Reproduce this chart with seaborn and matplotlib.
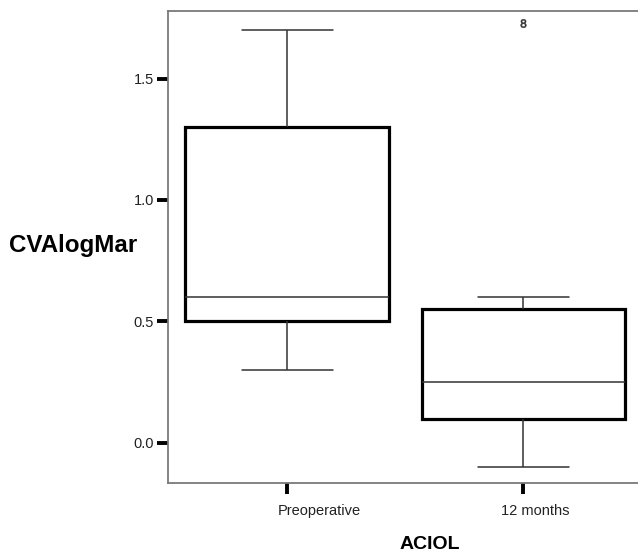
import pandas as pd
import numpy as np
import seaborn as sns
import matplotlib.pyplot as plt
import matplotlib.transforms as mtransforms

# Visual acuity values (logMAR) per time point
groups = ["Preoperative", "12 months"]
preop_vals = [0.3, 0.5, 0.5, 0.5, 0.6, 1.0, 1.3, 1.5, 1.7]
month12_vals = [-0.1, 0.1, 0.1, 0.2, 0.25, 0.5, 0.55, 0.6, 1.73]
y_ticks = [0.0, 0.5, 1.0, 1.5]

df = pd.DataFrame({
    "ACIOL": [groups[0]] * len(preop_vals) + [groups[1]] * len(month12_vals),
    "CVAlogMar": preop_vals + month12_vals,
})

sns.set_style("white")
plt.rcParams['font.family'] = ['Liberation Sans', 'DejaVu Sans']

fig = plt.figure(figsize=(6.38, 5.55), dpi=100)
# axes runs past the right edge, like the cropped original
ax = fig.add_axes([168/638, 72/555, 502/638, 472/555])

sns.boxplot(data=df, x="ACIOL", y="CVAlogMar", order=groups, ax=ax,
            width=0.86, color="white", linecolor="black", whis=1.5,
            capwidths=0.386,
            boxprops={'linewidth': 2.3, 'edgecolor': 'black', 'facecolor': 'white'},
            whiskerprops={'linewidth': 1.1, 'color': '#333333'},
            capprops={'linewidth': 1.1, 'color': '#333333'},
            medianprops={'linewidth': 1.1, 'color': '#333333'},
            flierprops={'marker': '$8$', 'markersize': 6, 'markerfacecolor': '#333333',
                        'markeredgecolor': '#333333', 'markeredgewidth': 0.4})

ax.set_xlim(-0.504, 1.62)
ax.set_ylim(-0.165, 1.778)
ax.set_yticks(y_ticks)
ax.set_yticklabels([f"{v:.1f}" for v in y_ticks])

for side in ["left", "bottom", "top", "right"]:
    ax.spines[side].set_color("#7a7a7a")
    ax.spines[side].set_linewidth(1.3)
ax.spines["right"].set_visible(False)

ax.tick_params(axis='both', which='major', direction='out', length=8, width=2.8,
               color='black', labelsize=10.5, labelcolor='#222222')
ax.tick_params(axis='x', pad=7)
ax.tick_params(axis='y', pad=2)
ax.tick_params(left=True, bottom=True)

# category labels sit a bit right of their ticks in the original
shifts = [0.32, 0.12]
for lab, dx in zip(ax.get_xticklabels(), shifts):
    lab.set_transform(lab.get_transform() + mtransforms.ScaledTranslation(dx, 0, fig.dpi_scale_trans))

ax.set_ylabel("CVAlogMar", fontsize=17.4, fontweight='bold', rotation=0,
              ha='center', va='center', color='black')
ax.yaxis.set_label_coords(-0.188, 0.504)
ax.set_xlabel("ACIOL", fontsize=14, fontweight='bold', va='center', color='black')
ax.xaxis.set_label_coords(0.522, -0.131)

plt.savefig("out.png", dpi=100)
